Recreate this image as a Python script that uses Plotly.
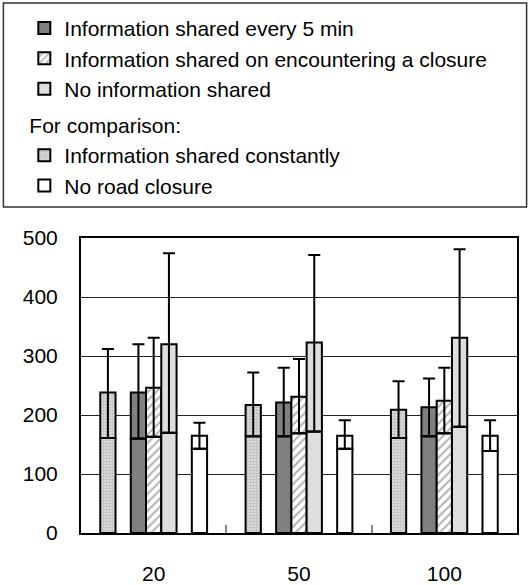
import plotly.graph_objects as go

FAMILY = "Liberation Sans, Arial, sans-serif"

categories = ["20", "50", "100"]

# per series: lower divider, bar top (mean), top of error whisker
series_names = [
    "Information shared every 5 min",
    "Information shared on encountering a closure",
    "No information shared",
    "Information shared constantly",
    "No road closure",
]
every5_low = [160, 164, 164]
every5_top = [238, 221, 213]
every5_cap = [320, 280, 262]

closure_low = [163, 169, 169]
closure_top = [246, 231, 224]
closure_cap = [331, 295, 280]

noinfo_low = [170, 172, 180]
noinfo_top = [320, 323, 331]
noinfo_cap = [474, 471, 481]

constant_low = [161, 164, 161]
constant_top = [238, 217, 209]
constant_cap = [312, 272, 257]

noclosure_low = [143, 143, 139]
noclosure_top = [165, 165, 165]
noclosure_cap = [187, 191, 191]

y_ticks = [0, 100, 200, 300, 400, 500]

# styles: slot in the group, fill, pattern, legend group
slot_w = 0.105
styles = {
    "Information shared constantly": dict(slot=0, color="#e2e2e2",
        pattern=dict(shape=".", fgcolor="#9a9a9a", bgcolor="#e2e2e2", size=3, solidity=0.55), group="b", rank=4),
    "Information shared every 5 min": dict(slot=2, color="#808080", pattern=None, group="a", rank=1),
    "Information shared on encountering a closure": dict(slot=3, color="#ffffff",
        pattern=dict(shape="/", fgcolor="#666666", bgcolor="#ffffff", size=6, solidity=0.35), group="a", rank=2),
    "No information shared": dict(slot=4, color="#dedede", pattern=None, group="a", rank=3),
    "No road closure": dict(slot=6, color="#ffffff", pattern=None, group="b", rank=5),
}
values = {
    "Information shared every 5 min": (every5_low, every5_top, every5_cap),
    "Information shared on encountering a closure": (closure_low, closure_top, closure_cap),
    "No information shared": (noinfo_low, noinfo_top, noinfo_cap),
    "Information shared constantly": (constant_low, constant_top, constant_cap),
    "No road closure": (noclosure_low, noclosure_top, noclosure_cap),
}

fig = go.Figure()
for name in series_names:
    st = styles[name]
    low, top, cap = values[name]
    off = -0.3675 + st["slot"] * slot_w
    marker = dict(color=st["color"], line=dict(color="black", width=2))
    if st["pattern"]:
        marker["pattern"] = st["pattern"]
    # lower part of the bar
    fig.add_trace(go.Bar(
        x=categories, y=low, name=name, width=slot_w, offset=off,
        marker=marker, legendgroup=st["group"], legendrank=st["rank"],
        legendgrouptitle=dict(text="For comparison:") if st["group"] == "b" else None,
    ))
    # upper part from divider to mean, whisker from divider to cap
    fig.add_trace(go.Bar(
        x=categories, y=[t - l for t, l in zip(top, low)], base=low,
        width=slot_w, offset=off, marker=marker, showlegend=False,
        legendgroup=st["group"],
        error_y=dict(type="data", symmetric=False,
                     array=[c - t for c, t in zip(cap, top)],
                     arrayminus=[t - l for t, l in zip(top, low)],
                     color="black", thickness=2, width=6),
    ))

fig.update_layout(
    width=530, height=585,
    barmode="overlay",
    paper_bgcolor="white", plot_bgcolor="white",
    font=dict(family=FAMILY, size=21, color="black"),
    margin=dict(l=81, r=13, t=238, b=52, autoexpand=False),
    showlegend=True,
    legend=dict(
        x=-0.13, y=1.78,
        xanchor="left", yanchor="top",
        traceorder="grouped", tracegroupgap=6,
        font=dict(size=21), grouptitlefont=dict(size=21),
        bgcolor="rgba(0,0,0,0)", borderwidth=0,
    ),
    shapes=[dict(type="rect", xref="paper", yref="paper",
                 x0=-0.178, x1=1.022, y0=1.105, y1=1.797,
                 line=dict(color="#333333", width=1.5))],
)
fig.update_xaxes(
    type="category", range=[-0.5, 2.5],
    showline=True, mirror=True, linecolor="black", linewidth=2,
    showgrid=False, tickson="boundaries", ticks="inside", ticklen=8,
    tickcolor="#888888", tickwidth=2, ticklabelstandoff=21,
    tickfont=dict(size=21),
)
fig.update_yaxes(
    range=[0, 500], tickvals=y_ticks,
    showline=True, mirror=True, linecolor="black", linewidth=2,
    showgrid=True, gridcolor="#222222", gridwidth=1,
    zeroline=False, ticks="", ticklabelstandoff=17,
    tickfont=dict(size=21),
)

fig.write_html("out.html", config={"displayModeBar": False},
               post_script="document.body.style.margin='0';")
